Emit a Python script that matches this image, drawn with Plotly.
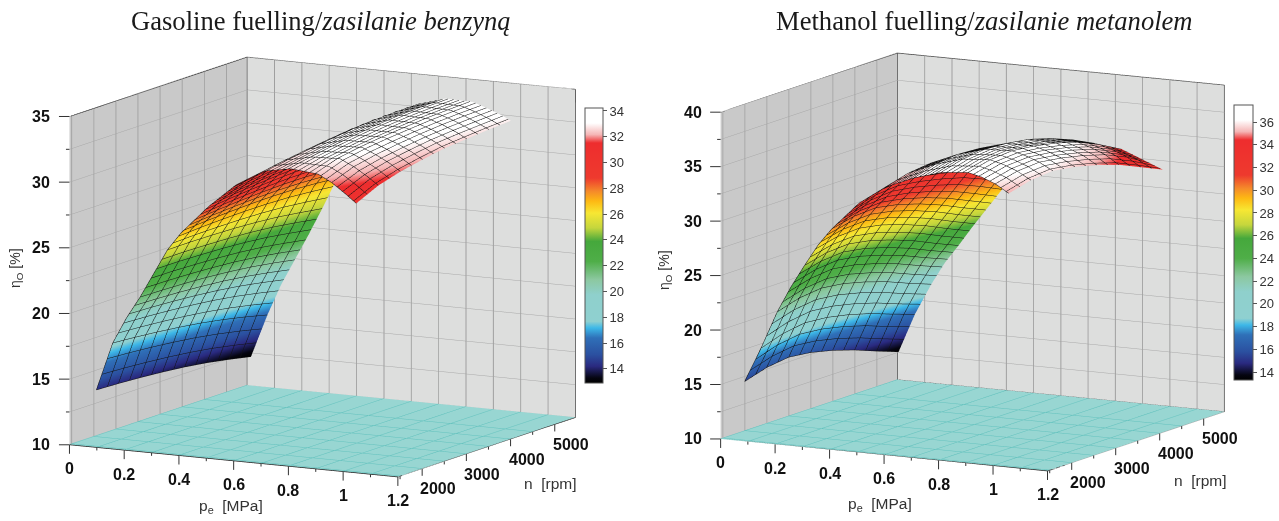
import plotly.graph_objects as go

# ---- data ----
rpm = [1500, 2000, 2500, 3000, 3500, 4000, 4500, 5000]

pe_gas = [0.09, 0.15, 0.2, 0.25, 0.3, 0.35, 0.4, 0.5, 0.6, 0.7, 0.8, 0.9, 0.95, 1.0, 1.04]
eta_gas = [
    [14.3, 14.23, 14.12, 13.98, 13.8, 13.56, 13.25, 12.9],
    [18.0, 17.87, 17.71, 17.51, 17.27, 16.97, 16.61, 16.2],
    [20.0, 19.93, 19.82, 19.68, 19.5, 19.26, 18.95, 18.6],
    [21.7, 21.67, 21.61, 21.51, 21.37, 21.17, 20.91, 20.6],
    [23.6, 23.59, 23.53, 23.45, 23.33, 23.15, 22.89, 22.6],
    [25.5, 25.52, 25.49, 25.44, 25.34, 25.19, 24.96, 24.7],
    [26.9, 27.03, 27.12, 27.18, 27.2, 27.16, 27.05, 26.9],
    [29.1, 29.3, 29.46, 29.59, 29.69, 29.72, 29.68, 29.6],
    [30.95, 31.22, 31.44, 31.64, 31.79, 31.89, 31.91, 31.9],
    [32.2, 32.5, 32.76, 32.99, 33.19, 33.32, 33.38, 33.4],
    [32.6, 32.93, 33.22, 33.48, 33.7, 33.86, 33.95, 34.0],
    [32.4, 33.0, 33.3, 33.5, 33.65, 33.8, 33.88, 33.95],
    [31.85, 32.5, 32.85, 33.1, 33.3, 33.45, 33.55, 33.6],
    [31.1, 31.85, 32.3, 32.6, 32.85, 33.0, 33.1, 33.2],
    [30.45, 31.25, 31.75, 32.1, 32.4, 32.55, 32.7, 32.8],
]

pe_met = [0.08, 0.14, 0.2, 0.25, 0.3, 0.35, 0.4, 0.5, 0.6, 0.7, 0.8, 0.9, 0.95, 1.0, 1.05]
eta_met = [
    [15.4, 16.01, 16.28, 16.04, 15.56, 14.92, 14.14, 13.4],
    [18.6, 19.27, 19.59, 19.41, 18.99, 18.41, 17.68, 17.0],
    [22.1, 22.69, 22.92, 22.66, 22.14, 21.48, 20.66, 19.9],
    [24.5, 25.04, 25.24, 24.93, 24.37, 23.66, 22.81, 22.0],
    [26.6, 27.09, 27.22, 26.86, 26.24, 25.48, 24.56, 23.7],
    [28.6, 29.06, 29.16, 28.77, 28.13, 27.34, 26.39, 25.5],
    [30.2, 30.67, 30.79, 30.41, 29.79, 29.01, 28.08, 27.2],
    [32.8, 33.36, 33.56, 33.3, 32.9, 32.4, 31.6, 30.6],
    [34.55, 35.13, 35.36, 35.2, 34.9, 34.4, 33.55, 32.6],
    [35.6, 36.19, 36.42, 36.3, 36.0, 35.5, 34.65, 33.7],
    [36.35, 36.91, 37.13, 37.0, 36.7, 36.1, 35.3, 34.3],
    [36.6, 37.09, 37.24, 37.0, 36.6, 36.0, 35.1, 34.0],
    [36.3, 36.78, 36.91, 36.65, 36.2, 35.6, 34.7, 33.5],
    [35.8, 36.29, 36.44, 36.15, 35.7, 35.1, 34.2, 33.0],
    [35.05, 35.59, 35.77, 35.46, 34.95, 34.3, 33.4, 32.5],
]

pe_ticks = [0, 0.1, 0.2, 0.3, 0.4, 0.5, 0.6, 0.7, 0.8, 0.9, 1.0, 1.1, 1.2]
pe_labels = ["0", "", "0.2", "", "0.4", "", "0.6", "", "0.8", "", "1", "", "1.2"]
n_ticks = [1500, 2000, 2500, 3000, 3500, 4000, 4500, 5000]
n_labels = ["", "2000", "", "3000", "", "4000", "", "5000"]
z_ticks_gas = [10, 12.5, 15, 17.5, 20, 22.5, 25, 27.5, 30, 32.5, 35]
z_labels_gas = ["10", "", "15", "", "20", "", "25", "", "30", "", "35"]
z_ticks_met = [10, 12.5, 15, 17.5, 20, 22.5, 25, 27.5, 30, 32.5, 35, 37.5, 40]
z_labels_met = ["10", "", "15", "", "20", "", "25", "", "30", "", "35", "", "40"]
cbar_gas = [14, 16, 18, 20, 22, 24, 26, 28, 30, 32, 34]
cbar_met = [14, 16, 18, 20, 22, 24, 26, 28, 30, 32, 34, 36]

pe_range = [0, 1.2]
n_range = [1450, 5470]

colorscale = [
    [0.0, "#000000"], [0.018, "#050510"], [0.061, "#2a2a80"], [0.103, "#2b50a0"],
    [0.164, "#2f70b8"], [0.2, "#3db8e8"], [0.224, "#8fd0d0"], [0.321, "#8fd0cc"],
    [0.376, "#8cc8a0"], [0.442, "#4fae48"], [0.515, "#45a83c"], [0.564, "#c5d63d"],
    [0.618, "#f7e733"], [0.661, "#fdb913"], [0.697, "#f58a2a"], [0.745, "#ee3a2e"],
    [0.873, "#ee2d2e"], [0.903, "#f5b5b5"], [0.945, "#ffffff"], [1.0, "#ffffff"],
]
flat = dict(ambient=1, diffuse=0, specular=0, roughness=1, fresnel=0)
W, H = 1279, 521


def panel(fig, scene, pe, eta, zr, cr, cticks, bar):
    z = [[eta[i][j] for i in range(len(pe))] for j in range(len(rpm))]
    fig.add_trace(go.Surface(
        x=pe, y=rpm, z=z, scene=scene, colorscale=colorscale, cmin=cr[0], cmax=cr[1],
        lighting=flat, hoverinfo="skip",
        contours=dict(
            x=dict(show=True, start=pe[0], end=pe[-1], size=0.02, color="#111111", width=1),
            y=dict(show=True, start=1500, end=5000, size=250, color="#111111", width=1),
        ),
        colorbar=dict(
            x=bar[0] / W, xanchor="left", y=1 - bar[1] / H, yanchor="top", xpad=0, ypad=0,
            len=275, lenmode="pixels", thickness=bar[2], thicknessmode="pixels",
            tickvals=cticks, ticks="outside", ticklen=4, tickcolor="#555555",
            tickfont=dict(family="Liberation Sans", size=13, color="#333333"),
            outlinecolor="#555555", outlinewidth=1,
        ),
    ))
    floor_z = [[zr[0] + 0.02] * 2, [zr[0] + 0.02] * 2]
    fig.add_trace(go.Surface(
        x=pe_range, y=n_range, z=floor_z, scene=scene, showscale=False,
        colorscale=[[0, "#98d6d2"], [1, "#98d6d2"]], lighting=flat, hoverinfo="skip",
        contours=dict(
            x=dict(show=True, start=0, end=1.2, size=0.1, color="#62c2be", width=1),
            y=dict(show=True, start=1500, end=5000, size=500, color="#62c2be", width=1),
        ),
    ))
    x0, x1 = pe_range
    y0, y1 = n_range
    z0, z1 = zr
    fig.add_trace(go.Scatter3d(
        x=[x0, x0, x0, x1, x1, None, x0, x0, None, x0, x1, x1],
        y=[y0, y1, y1, y1, y1, None, y1, y1, None, y0, y0, y1],
        z=[z1, z1, z0, z0, z1, None, z1, z1, None, z0, z0, z0],
        mode="lines", line=dict(color="#222222", width=1.5), scene=scene,
        showlegend=False, hoverinfo="skip",
    ))
    fig.add_trace(go.Scatter3d(
        x=[x0, x1], y=[y1, y1], z=[z1, z1],
        mode="lines", line=dict(color="#333333", width=1.5), scene=scene,
        showlegend=False, hoverinfo="skip",
    ))


fig = go.Figure()
panel(fig, "scene", pe_gas, eta_gas, [10, 35], [12.9, 34.23], cbar_gas, (585, 108, 18))
panel(fig, "scene2", pe_met, eta_met, [10, 40], [13.3, 37.5], cbar_met, (1234, 105, 19))

label_font = dict(family="Liberation Sans", size=16, color="#111111", weight="bold")


def tick_notes(zr, zt, zl):
    notes = []
    def add(x, y, z, s, dx, dy, tx, ty, tmaj, tmin):
        if s:
            notes.append(dict(x=x, y=y, z=z, text=s, showarrow=False, font=label_font,
                              xshift=dx, yshift=dy, xanchor="center", yanchor="middle"))
        ln = tmaj if s else tmin
        notes.append(dict(x=x, y=y, z=z, text=" ", showarrow=True, arrowhead=0, arrowwidth=1,
                          arrowcolor="#333333", ax=tx * ln, ay=ty * ln, standoff=0,
                          font=dict(size=1)))
    for v, s in zip(pe_ticks, pe_labels):
        add(v, n_range[0], zr[0], s, 0, -24, 0, 1, 11, 5)
    for v, s in zip(n_ticks, n_labels):
        add(pe_range[1], v, zr[0], s, 16, -20, 0, 1, 9, 5)
    for v, s in zip(zt, zl):
        add(pe_range[0], n_range[0], v, s, -28, 0, -1, 0, 12, 5)
    return notes


def axes(zr, zt, zl, dom, k):
    common = dict(title="", showticklabels=False, showbackground=True, zeroline=False, ticks="",
                  showspikes=False)
    return dict(
        domain=dict(x=[dom[0] / W, dom[1] / W], y=[1 - dom[3] / H, 1 - dom[2] / H]),
        aspectmode="manual", aspectratio=dict(x=k, y=k, z=0.894 * k),
        camera=dict(
            projection=dict(type="orthographic"),
            up=dict(x=0, y=0, z=1), center=dict(x=0, y=0, z=0),
            eye=dict(x=0.468 * 2.5, y=-0.865 * 2.5, z=0.181 * 2.5),
        ),
        annotations=tick_notes(zr, zt, zl),
        xaxis=dict(range=pe_range, tickvals=pe_ticks, backgroundcolor="#c9c9c9",
                   gridcolor="#9f9f9f", gridwidth=2, **common),
        yaxis=dict(range=n_range, tickvals=n_ticks, backgroundcolor="#dddedd",
                   gridcolor="#9f9f9f", gridwidth=2, **common),
        zaxis=dict(range=zr, tickvals=zt, backgroundcolor="#98d6d2",
                   gridcolor="#a8a8a8", gridwidth=1, **common),
    )


ann = []
def text(x, y, s, size, fam="Liberation Sans", color="#333333", angle=0):
    ann.append(dict(x=x / W, y=1 - y / H, xref="paper", yref="paper", text=s, showarrow=False,
                    font=dict(family=fam, size=size, color=color), textangle=angle,
                    xanchor="center", yanchor="middle"))

text(320.5, 21, "Gasoline fuelling/<i>zasilanie benzyną</i>", 26.6, "Liberation Serif", "#1a1a1a")
text(984.5, 21, "Methanol fuelling/<i>zasilanie metanolem</i>", 26.6, "Liberation Serif", "#1a1a1a")
text(231, 506, "p<sub>e</sub>  [MPa]", 15.5)
text(550, 483, "n  [rpm]", 15.5)
text(16, 268, "η<sub>O</sub> [%]", 14, angle=-90)
text(880, 504, "p<sub>e</sub>  [MPa]", 15.5)
text(1200, 480, "n  [rpm]", 15.5)
text(665, 270, "η<sub>O</sub> [%]", 14, angle=-90)

fig.update_layout(
    width=W, height=H, margin=dict(l=0, r=0, t=0, b=0), paper_bgcolor="white",
    showlegend=False, annotations=ann,
    scene=axes([10, 35], z_ticks_gas, z_labels_gas, (0, 645, 13, 521), 1.47),
    scene2=axes([10, 40], z_ticks_met, z_labels_met, (666, 1279, 3, 521), 1.435),
)
fig.write_html("out.html", config=dict(displayModeBar=False),
               post_script="document.body.style.margin='0';document.body.style.overflow='hidden';")
